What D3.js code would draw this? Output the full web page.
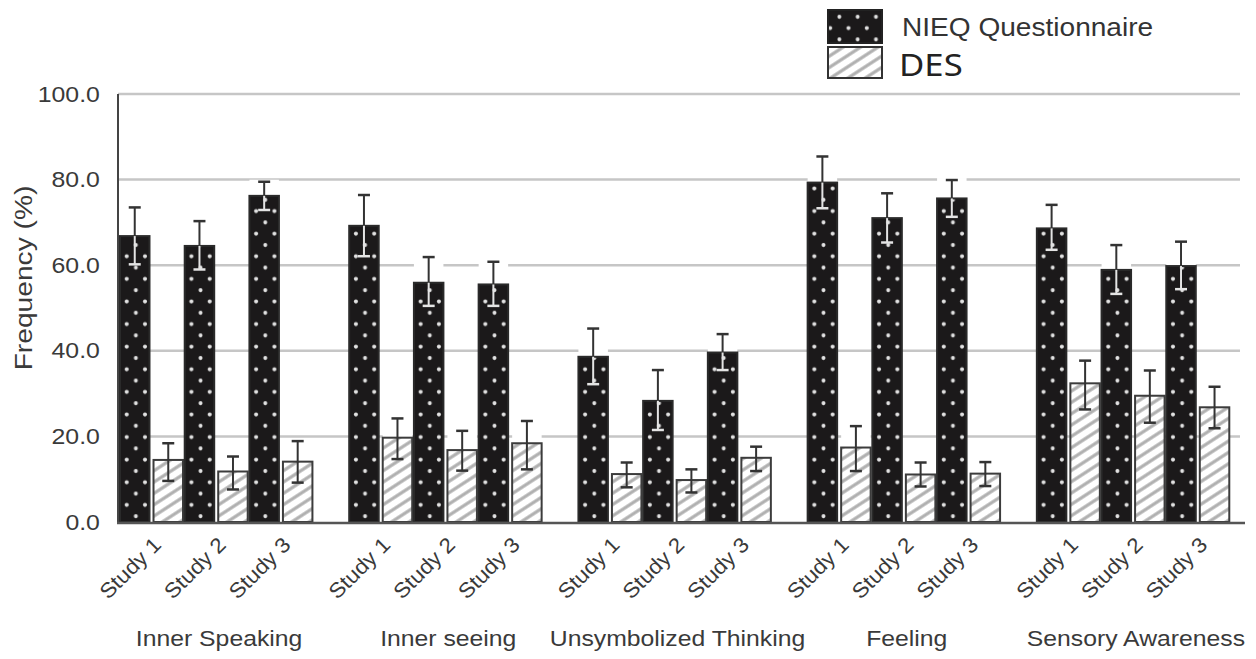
<!DOCTYPE html>
<meta charset="utf-8">
<style>
body {
    margin:0;
    background-color:white;
    font-family:"Liberation Sans", Arial, sans-serif;
    }
</style>

<script src="https://d3js.org/d3.v7.min.js"></script>

<div id="my_dataviz"></div>

<script>

// categories and studies
var groups = ["Inner Speaking", "Inner seeing", "Unsymbolized Thinking", "Feeling", "Sensory Awareness"];
var studies = ["Study 1", "Study 2", "Study 3"];
var series = ["NIEQ Questionnaire", "DES"];

// values, 3 studies per group in order
var nieqMean = [66.8, 64.5, 76.2,  69.2, 55.9, 55.5,  38.6, 28.3, 39.6,  79.3, 71.0, 75.6,  68.6, 58.9, 59.8];
var nieqLow  = [60.2, 59.0, 72.9,  62.1, 50.5, 50.5,  32.2, 21.5, 35.5,  73.3, 65.3, 71.3,  63.6, 53.3, 54.4];
var nieqHigh = [73.5, 70.3, 79.5,  76.4, 61.9, 60.8,  45.2, 35.5, 43.9,  85.4, 76.8, 79.9,  74.1, 64.7, 65.5];
var desMean  = [14.5, 11.8, 14.1,  19.7, 16.8, 18.4,  11.2,  9.8, 15.0,  17.4, 11.1, 11.3,  32.4, 29.5, 26.8];
var desLow   = [ 9.6,  7.6,  9.2,  14.7, 12.0, 12.3,   8.1,  6.9, 11.9,  11.9,  8.3,  8.4,  26.3, 23.2, 21.9];
var desHigh  = [18.4, 15.3, 18.9,  24.2, 21.3, 23.6,  13.9, 12.3, 17.6,  22.4, 13.9, 14.0,  37.7, 35.4, 31.6];

var yTicks = [0, 20, 40, 60, 80, 100];

// build rows for drawing
var rows = [];
groups.forEach(function(g, gi) {
  studies.forEach(function(s, si) {
    var i = gi * 3 + si;
    rows.push({group: g, study: s, key: "NIEQ", mean: nieqMean[i], low: nieqLow[i], high: nieqHigh[i]});
    rows.push({group: g, study: s, key: "DES", mean: desMean[i], low: desLow[i], high: desHigh[i]});
  });
});

var W = 1256, H = 659;
var textCol = "#3a3a3a";

var svg = d3.select("#my_dataviz")
  .append("svg")
    .attr("width", W)
    .attr("height", H);

// patterns
var defs = svg.append("defs");
var dots = defs.append("pattern")
    .attr("id", "dots")
    .attr("patternUnits", "userSpaceOnUse")
    .attr("width", 18.3)
    .attr("height", 22.6);
dots.append("rect").attr("width", 18.3).attr("height", 22.6).attr("fill", "#1b191a");
dots.append("circle").attr("cx", 6.7).attr("cy", 5.5).attr("r", 2).attr("fill", "#e2e2e2");
dots.append("circle").attr("cx", 15.85).attr("cy", 16.8).attr("r", 2).attr("fill", "#e2e2e2");

var hatch = defs.append("pattern")
    .attr("id", "hatch")
    .attr("patternUnits", "userSpaceOnUse")
    .attr("width", 9.5)
    .attr("height", 9.5)
    .attr("patternTransform", "rotate(-33)");
hatch.append("rect").attr("width", 9.5).attr("height", 9.5).attr("fill", "white");
hatch.append("line")
    .attr("x1", 0).attr("x2", 9.5).attr("y1", 4.75).attr("y2", 4.75)
    .attr("stroke", "#b0b0b0").attr("stroke-width", 3.2);

// scales
var y = d3.scaleLinear().domain([0, 100]).range([522, 94]);

var x0 = d3.scaleBand()
  .domain(groups)
  .range([120, 1231])
  .paddingInner(0.153)
  .paddingOuter(0);

var x1 = d3.scaleBand()
  .domain(studies)
  .range([0, x0.bandwidth()]);

var x2 = d3.scaleBand()
  .domain(["NIEQ", "DES"])
  .range([0, 63])
  .paddingInner(0.12);

// gridlines
svg.append("g")
  .selectAll("line")
  .data(yTicks.filter(function(d) { return d > 0; }))
  .enter()
  .append("line")
    .attr("x1", 118)
    .attr("x2", 1240)
    .attr("y1", function(d) { return y(d); })
    .attr("y2", function(d) { return y(d); })
    .attr("stroke", "#c6c6c6")
    .attr("stroke-width", 2.5);

// y axis
var yAxis = svg.append("g")
  .attr("transform", "translate(118,0)")
  .call(d3.axisLeft(y).tickValues(yTicks).tickSize(0).tickPadding(16).tickFormat(d3.format(".1f")));
yAxis.select(".domain").remove();
yAxis.selectAll("text")
  .attr("font-size", 22)
  .attr("font-family", "Liberation Sans, Arial, sans-serif")
  .attr("fill", textCol)
  .attr("transform", "scale(1.13,1)");

// bars
var bars = svg.append("g")
  .selectAll("g")
  .data(rows)
  .enter()
  .append("g")
    .attr("transform", function(d) { return "translate(" + (x0(d.group) + x1(d.study) + x2(d.key)) + "," + y(0) + ")"; });

// white gap behind the upper error bar
bars.append("rect")
  .attr("x", 0)
  .attr("y", function(d) { return y(d.high) - y(0) - 2; })
  .attr("width", x2.bandwidth())
  .attr("height", function(d) { return y(d.mean) - y(d.high) + 2; })
  .attr("fill", "white");

bars.append("rect")
  .attr("x", 0)
  .attr("y", function(d) { return y(d.mean) - y(0); })
  .attr("width", x2.bandwidth())
  .attr("height", function(d) { return y(0) - y(d.mean); })
  .attr("fill", function(d) { return d.key == "NIEQ" ? "url(#dots)" : "url(#hatch)"; })
  .attr("stroke", function(d) { return d.key == "NIEQ" ? "#2a2a2a" : "#3c3c3c"; })
  .attr("stroke-width", 2);

// error bars
var cx = x2.bandwidth() / 2;
bars.append("line")
  .attr("x1", cx).attr("x2", cx)
  .attr("y1", function(d) { return y(d.high) - y(0); })
  .attr("y2", function(d) { return y(d.mean) - y(0); })
  .attr("stroke", "#333").attr("stroke-width", 2);
bars.append("line")
  .attr("x1", cx).attr("x2", cx)
  .attr("y1", function(d) { return y(d.mean) - y(0); })
  .attr("y2", function(d) { return y(d.low) - y(0); })
  .attr("stroke", function(d) { return d.key == "NIEQ" ? "#e4e4e4" : "#333"; })
  .attr("stroke-width", 2);
bars.append("line")
  .attr("x1", cx - 6).attr("x2", cx + 6)
  .attr("y1", function(d) { return y(d.high) - y(0); })
  .attr("y2", function(d) { return y(d.high) - y(0); })
  .attr("stroke", "#333").attr("stroke-width", 2.5);
bars.append("line")
  .attr("x1", cx - 6).attr("x2", cx + 6)
  .attr("y1", function(d) { return y(d.low) - y(0); })
  .attr("y2", function(d) { return y(d.low) - y(0); })
  .attr("stroke", function(d) { return d.key == "NIEQ" ? "#e4e4e4" : "#333"; })
  .attr("stroke-width", 2.5);

// axis lines
svg.append("line")
  .attr("x1", 118).attr("x2", 118)
  .attr("y1", y(100)).attr("y2", y(0) + 1)
  .attr("stroke", "#444").attr("stroke-width", 2);
svg.append("line")
  .attr("x1", 117).attr("x2", 1245)
  .attr("y1", y(0) + 1).attr("y2", y(0) + 1)
  .attr("stroke", "#555").attr("stroke-width", 2.5);

// study labels
var studyLabels = [];
groups.forEach(function(g) {
  studies.forEach(function(s) { studyLabels.push({group: g, study: s}); });
});
svg.append("g")
  .selectAll("text")
  .data(studyLabels)
  .enter()
  .append("text")
    .attr("transform", function(d) {
      var px = x0(d.group) + x1(d.study) + 31.5 + 11;
      return "translate(" + px + ",546) rotate(-45) scale(1.08,1)";
    })
    .attr("text-anchor", "end")
    .attr("font-size", 21)
    .attr("fill", textCol)
    .text(function(d) { return d.study; });

// group labels
svg.append("g")
  .selectAll("text")
  .data(groups)
  .enter()
  .append("text")
    .attr("transform", function(d) { return "translate(" + (x0(d) + x0.bandwidth() / 2 + 2) + ",646) scale(1.1,1)"; })
    .attr("text-anchor", "middle")
    .attr("font-size", 22.5)
    .attr("fill", textCol)
    .text(function(d) { return d; });

// y title
svg.append("text")
  .attr("transform", "translate(32,278) rotate(-90) scale(1.15,1)")
  .attr("text-anchor", "middle")
  .attr("font-size", 24.5)
  .attr("fill", textCol)
  .text("Frequency (%)");

// legend
var legend = svg.append("g");
legend.append("rect")
  .attr("x", 828).attr("y", 10).attr("width", 54).attr("height", 33)
  .attr("fill", "url(#dots)").attr("stroke", "#222").attr("stroke-width", 2);
legend.append("rect")
  .attr("x", 828).attr("y", 47).attr("width", 54).attr("height", 31)
  .attr("fill", "url(#hatch)").attr("stroke", "#333").attr("stroke-width", 2);
legend.append("text")
  .attr("transform", "translate(902,36) scale(1.08,1)")
  .attr("font-size", 26)
  .attr("fill", "#333")
  .text(series[0]);
legend.append("text")
  .attr("transform", "translate(899,76) scale(1.12,1)")
  .attr("font-size", 31)
  .attr("font-family", "Noto Sans, Open Sans, sans-serif")
  .attr("fill", "#222")
  .text(series[1]);

</script>
